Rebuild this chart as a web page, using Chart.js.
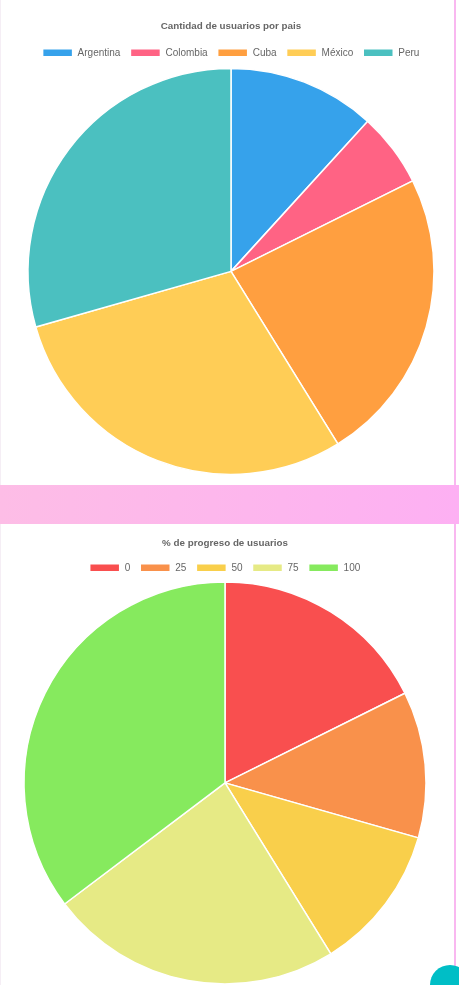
<!DOCTYPE html>
<html><head><meta charset="utf-8">
<script src="https://cdn.jsdelivr.net/npm/chart.js@4"></script>
<style>
html,body{margin:0;padding:0;width:459px;height:985px;overflow:hidden;background:#fff;}
.box{position:absolute;left:0;width:456px;background:#fff;border-left:1px solid #f5eef5;border-right:2px solid #f9b8f0;box-sizing:border-box;}
#b1{top:0;height:485px;}
#b2{top:524px;height:470px;}
.band{position:absolute;left:0;top:485px;width:459px;height:39px;background:linear-gradient(90deg,#fdbde6,#fdb0f3);}
.fab{position:absolute;left:430px;top:965px;width:40px;height:40px;border-radius:50%;background:#00bec6;}
canvas{position:absolute;left:0;top:0;}
</style></head><body>
<div class="box" id="b1"><canvas id="c1"></canvas></div>
<div class="band"></div>
<div class="box" id="b2"><canvas id="c2"></canvas></div>
<div class="fab"></div>
<script>
const countries = ["Argentina","Colombia","Cuba","México","Peru"];
const usersPerCountry = [2,1,4,5,5];
const countryColors = ["rgb(54,162,235)","rgb(255,99,132)","rgb(255,159,64)","rgb(255,205,86)","rgb(75,192,192)"];
const progressLabels = ["0","25","50","75","100"];
const usersPerProgress = [3,2,2,4,6];
const progressColors = ["#f94f4f","#f9914b","#f9cf4b","#e6ea85","#86ea5e"];

Chart.defaults.font.family = "'Liberation Sans', Arial, sans-serif";
Chart.defaults.color = '#666';

function makePie(id, w, h, labels, data, colors, title, radius, pad, titlePad){
  const cv = document.getElementById(id);
  cv.style.width = w+'px'; cv.style.height = h+'px';
  cv.width = w; cv.height = h;
  return new Chart(cv, {
    type:'pie',
    data:{labels:labels, datasets:[{data:data, backgroundColor:colors, borderColor:'#fff', borderWidth:1.5, hoverOffset:0}]},
    options:{
      responsive:false, animation:false, maintainAspectRatio:false,
      radius: radius,
      layout:{padding:pad},
      plugins:{
        title:{display:true, text:title, font:{size:9.8, weight:'bold'}, padding:titlePad},
        legend:{position:'top', labels:{boxWidth:30, boxHeight:8, font:{size:10}, padding:10}},
        tooltip:{enabled:false}
      }
    }
  });
}
makePie('c1', 456, 485, countries, usersPerCountry, countryColors, 'Cantidad de usuarios por pais', 203, {top:10, bottom:10, left:4, right:0}, {top:10,bottom:6});
makePie('c2', 456, 470, progressLabels, usersPerProgress, progressColors, '% de progreso de usuarios', 201, {top:3, bottom:11, left:0, right:8}, {top:10,bottom:4});
</script>
</body></html>
